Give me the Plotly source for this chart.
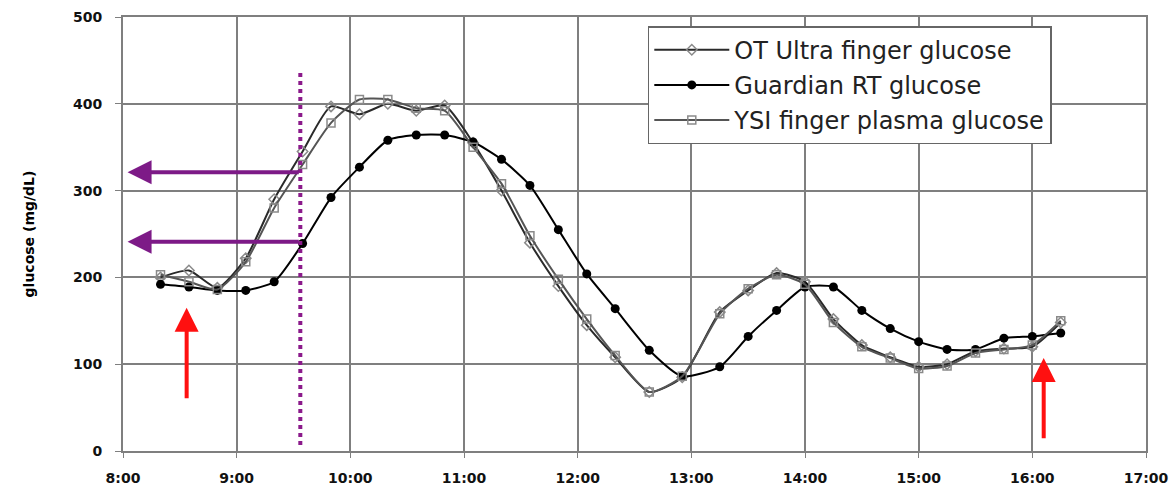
import plotly.graph_objects as go

# time in decimal hours
guardian_t = [8.33, 8.58, 8.83, 9.08, 9.33, 9.58, 9.83, 10.08, 10.33, 10.58, 10.83, 11.08,
              11.33, 11.58, 11.83, 12.08, 12.33, 12.63, 12.92, 13.25, 13.5, 13.75, 14.0,
              14.25, 14.5, 14.75, 15.0, 15.25, 15.5, 15.75, 16.0, 16.25]
guardian_v = [192, 189, 185, 185, 195, 239, 292, 327, 358, 364, 364, 356, 336, 306, 255, 204,
              164, 116, 86, 97, 132, 162, 189, 189, 162, 141, 126, 117, 117, 130, 132, 136]

ot_t = guardian_t
ot_v = [200, 208, 188, 222, 290, 345, 397, 388, 400, 392, 398, 355, 300, 240, 190, 145,
        108, 68, 85, 160, 185, 205, 195, 152, 122, 108, 97, 100, 115, 118, 120, 148]

ysi_t = guardian_t
ysi_v = [203, 195, 186, 218, 280, 330, 378, 405, 405, 395, 392, 350, 308, 248, 198, 152,
         110, 68, 86, 158, 187, 203, 192, 148, 120, 107, 95, 98, 113, 117, 122, 150]

x_ticks = [8, 9, 10, 11, 12, 13, 14, 15, 16, 17]
x_labels = ["8:00", "9:00", "10:00", "11:00", "12:00", "13:00", "14:00", "15:00", "16:00", "17:00"]
y_ticks = [0, 100, 200, 300, 400, 500]

# annotation values
marker_time = 9.56
arrow_levels = [321, 241]
arrow_end_time = 8.04
red_arrows = [(8.56, 59, 165), (16.1, 13, 107)]

fig = go.Figure()
fig.add_trace(go.Scatter(
    x=ot_t, y=ot_v, name="OT Ultra finger glucose", mode="lines+markers",
    line=dict(color="#2a2a2a", width=2, shape="spline", smoothing=0.6),
    marker=dict(symbol="diamond-open", size=8, color="#8a8a8a", line=dict(width=1.5, color="#8a8a8a")),
    legendgroup="a"))
fig.add_trace(go.Scatter(
    x=guardian_t, y=guardian_v, name="Guardian RT glucose", mode="lines+markers",
    line=dict(color="#000000", width=2, shape="spline", smoothing=0.6),
    marker=dict(symbol="circle", size=9, color="#000000"),
    legendgroup="b"))
fig.add_trace(go.Scatter(
    x=ysi_t, y=ysi_v, name="YSI finger plasma glucose", mode="lines+markers",
    line=dict(color="#555555", width=2, shape="spline", smoothing=0.6),
    marker=dict(symbol="square-open", size=8, color="#8a8a8a", line=dict(width=1.5, color="#8a8a8a")),
    legendgroup="c"))

# dotted vertical line
fig.add_trace(go.Scatter(
    x=[marker_time, marker_time], y=[7, 439], mode="lines",
    line=dict(color="#8B1A8B", width=4, dash="dot"), showlegend=False, hoverinfo="skip"))

annotations = []
for lvl in arrow_levels:
    annotations.append(dict(
        x=arrow_end_time, y=lvl, ax=marker_time, ay=lvl, xref="x", yref="y",
        axref="x", ayref="y", showarrow=True, arrowhead=2, arrowsize=1.2,
        arrowwidth=4, arrowcolor="#7d1a87", text=""))
for (t, y0, y1) in red_arrows:
    annotations.append(dict(
        x=t, y=y1, ax=t, ay=y0, xref="x", yref="y", axref="x", ayref="y",
        showarrow=True, arrowhead=2, arrowsize=1.2, arrowwidth=4,
        arrowcolor="#ff1010", text=""))

tick_font = dict(size=14, family="DejaVu Sans", weight="bold", color="#111")

fig.update_layout(
    width=1173, height=490,
    margin=dict(l=123, r=27, t=17, b=39),
    paper_bgcolor="white", plot_bgcolor="white",
    font=dict(family="DejaVu Sans, Arial, sans-serif", color="#000"),
    annotations=annotations,
    legend=dict(x=0.513, y=0.979, xanchor="left", yanchor="top",
                bgcolor="white", bordercolor="#666", borderwidth=1.5,
                font=dict(size=24, color="#222"), tracegroupgap=1,
                itemwidth=75),
    showlegend=True,
)
fig.update_xaxes(range=[8, 17], tickvals=x_ticks, ticktext=x_labels,
                 showgrid=True, gridcolor="#7f7f7f", gridwidth=1.5,
                 showline=True, linecolor="#7f7f7f", linewidth=2, mirror=True,
                 ticks="outside", ticklen=5, tickcolor="#7f7f7f",
                 tickfont=tick_font, ticklabelstandoff=8, automargin=False,
                 zeroline=False)
fig.update_yaxes(range=[0, 500], tickvals=y_ticks,
                 showgrid=True, gridcolor="#7f7f7f", gridwidth=1.5,
                 showline=True, linecolor="#7f7f7f", linewidth=2, mirror=True,
                 ticks="outside", ticklen=6, tickcolor="#7f7f7f",
                 tickfont=tick_font, ticklabelstandoff=10, automargin=False,
                 title=dict(text="glucose (mg/dL)", font=dict(size=14, weight="bold", family="DejaVu Sans"), standoff=35),
                 zeroline=False)

fig.write_html("out.html", config={"displayModeBar": False},
               post_script="document.body.style.margin='0';")
